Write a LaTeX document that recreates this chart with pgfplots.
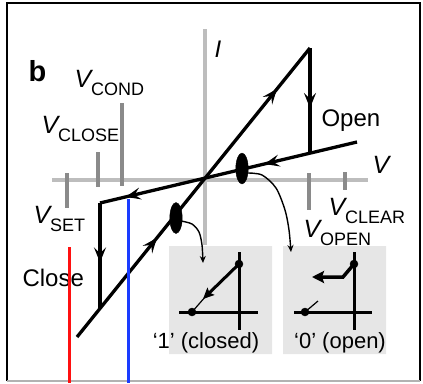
\documentclass[border=0pt]{standalone}
\usepackage{pgfplots}
\pgfplotsset{compat=1.18}
\usepackage{fontspec}
\setmainfont{Liberation Sans}
\usetikzlibrary{arrows.meta}

\definecolor{txt}{HTML}{231F20}
\definecolor{axgray}{HTML}{BDBDBD}
\definecolor{tickgray}{HTML}{8A8A8A}
\definecolor{boxgray}{HTML}{E6E6E6}
\definecolor{setred}{HTML}{FF1010}
\definecolor{condblue}{HTML}{1A3CFF}

% voltage label: italic V with an upright subscript
\newcommand{\Vsub}[1]{{\fontsize{25}{25}\selectfont\itshape V}\raisebox{-8pt}{\fontsize{18}{18}\selectfont #1}}

% direction arrow on a branch: a short stub along the branch that ends in the tip
\pgfplotsset{dirarrow/.style={black, line width=3.3pt, -{Stealth[length=15pt,width=12pt,inset=6pt]}}}

\begin{document}
\begin{tikzpicture}
\begin{axis}[
  at={(0,0)}, anchor=south west,
  scale only axis, width=423pt, height=383pt,
  xmin=0, xmax=423, ymin=0, ymax=383, y dir=reverse,
  hide axis, clip=false,
  every node/.append style={text=txt, inner sep=0pt},
]
% outer frame
\addplot[black, line width=2pt] coordinates {(7,381) (7,3) (420,3) (420,381)};
\addplot[gray!60, line width=2pt] coordinates {(7,381) (420,381)};

% grey panels of the two insets
\addplot[fill=boxgray, draw=none] coordinates {(169,246) (272,246) (272,354) (169,354) (169,246)};
\addplot[fill=boxgray, draw=none] coordinates {(283,246) (386,246) (386,354) (283,354) (283,246)};

% I-V axes
\addplot[axgray, line width=4pt] coordinates {(205,29) (205,245)};
\addplot[axgray, line width=4pt] coordinates {(52,180) (368,180)};

% voltage ticks
\addplot[tickgray, line width=3.5pt] coordinates {(67,173) (67,208)};   % V_SET
\addplot[tickgray, line width=3.5pt] coordinates {(98,152) (98,187)};   % V_CLOSE
\addplot[tickgray, line width=3.5pt] coordinates {(122,103) (122,186)}; % V_COND
\addplot[tickgray, line width=3.5pt] coordinates {(309,173) (309,210)}; % V_OPEN
\addplot[tickgray, line width=3.5pt] coordinates {(345,172) (345,190)}; % V_CLEAR

% labels
\node[anchor=base west] at (axis cs:25,81) {\fontsize{29}{29}\selectfont\bfseries b};
\node[anchor=base west] at (axis cs:71,87) {\Vsub{COND}};
\node[anchor=base west] at (axis cs:38,133) {\Vsub{CLOSE}};
\node[anchor=base west] at (axis cs:30,223) {\Vsub{SET}};
\node[anchor=base west] at (axis cs:325,215) {\Vsub{CLEAR}};
\node[anchor=base west] at (axis cs:300,237) {\Vsub{OPEN}};
\node[anchor=base west] at (axis cs:211,57) {\fontsize{24}{24}\selectfont\itshape I};
\node[anchor=base west] at (axis cs:369,173) {\fontsize{25}{25}\selectfont\itshape V};
\node[anchor=base west] at (axis cs:318,126) {\fontsize{24}{24}\selectfont Open};
\node[anchor=base west] at (axis cs:19,286) {\fontsize{24}{24}\selectfont Close};
\node[anchor=base] at (axis cs:206,348) {\fontsize{22}{22}\selectfont ‘1’ (closed)};
\node[anchor=base] at (axis cs:340,348) {\fontsize{22}{22}\selectfont ‘0’ (open)};

% closed-state (steep) branch
\addplot[black, line width=3.3pt] coordinates {(77,337) (310,48)};
\addplot[dirarrow] coordinates {(154.4,241.0) (156.9,237.9)};
\addplot[dirarrow] coordinates {(274.4,92.1) (276.9,89.0)};
% switching to the open state
\addplot[black, line width=3.3pt] coordinates {(310,48) (310,153)};
\addplot[dirarrow] coordinates {(310,104) (310,108)};
% open-state (shallow) branch
\addplot[black, line width=3.3pt] coordinates {(357,142) (100,203)};
\addplot[dirarrow] coordinates {(268.4,163.1) (264.5,164.0)};
\addplot[dirarrow] coordinates {(129.6,196.0) (125.7,196.9)};
% switching to the closed state
\addplot[black, line width=3.3pt] coordinates {(100,203) (100,309)};
\addplot[dirarrow] coordinates {(100,258.4) (100,262.4)};

% read-out points
\addplot[only marks, mark=*, mark size=15.5pt, mark options={xscale=0.4, fill=black, draw=none}] coordinates {(242,168.5) (176,218)};

% curved pointers to the insets
\addplot[black, line width=1.4pt, smooth, -{Stealth[length=7pt,width=6pt]}] coordinates {(247,173) (262,175) (276,188) (285,210) (289,230) (291,252)};
\addplot[black, line width=1.4pt, smooth, -{Stealth[length=7pt,width=6pt]}] coordinates {(181,221) (192,224) (199,232) (202,245) (203,263)};

% inset '1' (closed)
\addplot[black, line width=3pt] coordinates {(239,252) (239,330)};
\addplot[black, line width=3pt] coordinates {(179,312) (258,312)};
\addplot[black, line width=3pt, -{Stealth[length=11pt,width=10pt,inset=2pt]}] coordinates {(239,264) (203,299)};
\addplot[black, line width=1.2pt] coordinates {(206,296) (192,312)};
\addplot[only marks, mark=*, mark size=4pt, mark options={fill=black, draw=none}] coordinates {(239,264) (192,312)};

% inset '0' (open)
\addplot[black, line width=3pt] coordinates {(354,252) (354,330)};
\addplot[black, line width=3pt] coordinates {(294,312) (372,312)};
\addplot[black, line width=3.5pt, -{Stealth[length=12pt,width=12pt,inset=2pt]}] coordinates {(354,264) (343,277) (312,277)};
\addplot[black, line width=1.2pt] coordinates {(305,312) (318,301)};
\addplot[only marks, mark=*, mark size=4pt, mark options={fill=black, draw=none}] coordinates {(354,264) (305,312)};

% bias levels
\addplot[setred, line width=3pt] coordinates {(69,247) (69,383)};
\addplot[condblue, line width=3pt] coordinates {(128,199) (128,383)};
\end{axis}
\pgfresetboundingbox
\useasboundingbox (0,0) rectangle (423pt,383pt);
\end{tikzpicture}
\end{document}
